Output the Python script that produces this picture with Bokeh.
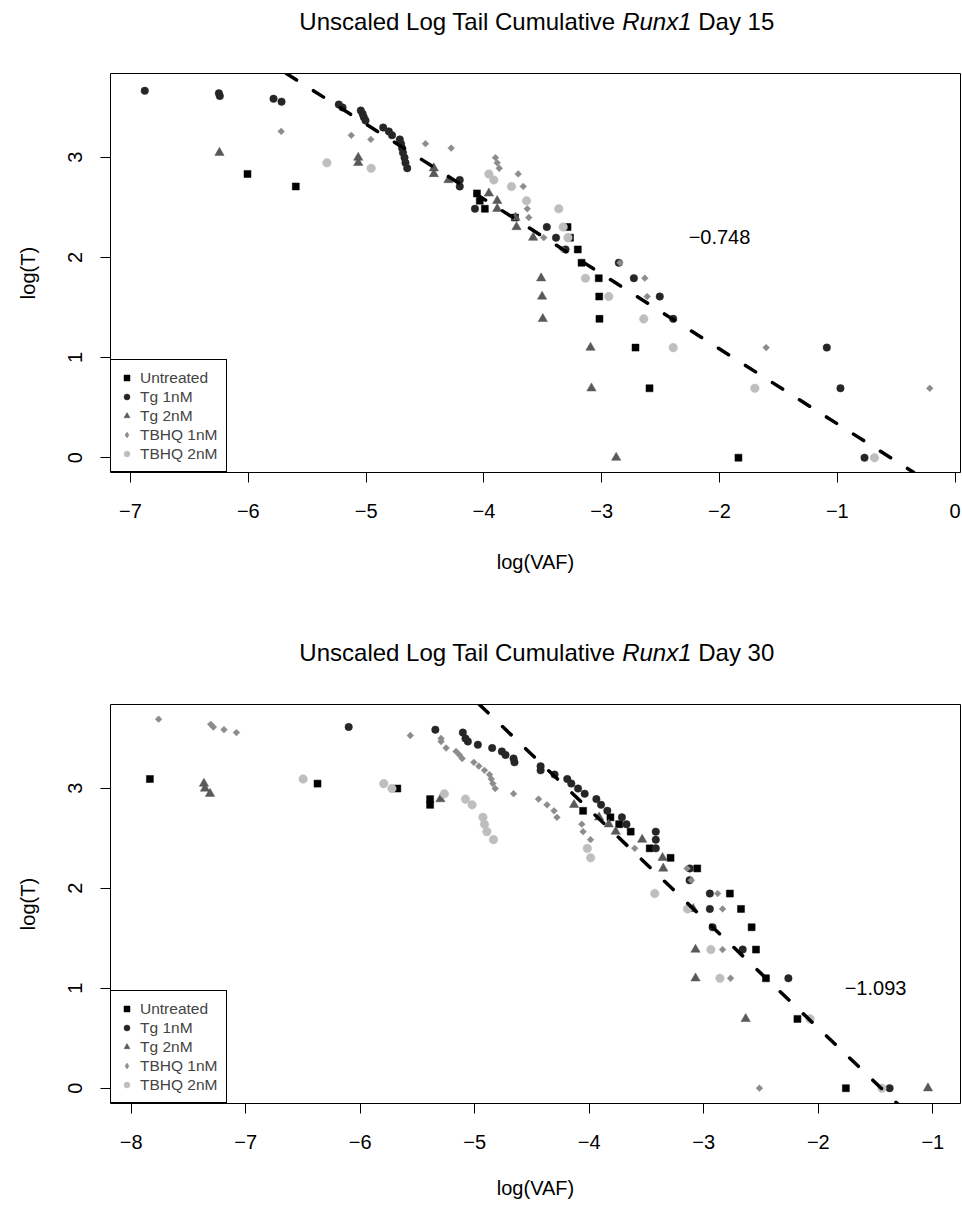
import math
from bokeh.plotting import figure
from bokeh.models import (Range1d, FixedTicker, CustomJSTickFormatter, Legend,
                          LegendItem, Label, ColumnDataSource)
from bokeh.layouts import column
from bokeh.embed import file_html
from bokeh.resources import INLINE

FONT = "Liberation Sans"

# ---------------- data ----------------
series_names = ["Untreated", "Tg 1nM", "Tg 2nM", "TBHQ 1nM", "TBHQ 2nM"]

# Day 15
d15_untreated_x = [-1.839, -2.594, -2.713, -3.019, -3.021, -3.025, -3.171, -3.203, -3.269, -3.290,
                   -3.736, -3.992, -4.035, -4.059, -5.597, -6.007]
d15_untreated_y = [0.000, 0.693, 1.099, 1.386, 1.609, 1.792, 1.946, 2.079, 2.197, 2.303,
                   2.398, 2.485, 2.565, 2.639, 2.708, 2.833]

d15_tg1_x = [-0.769, -0.973, -1.089, -2.393, -2.507, -2.727, -2.855, -3.307, -3.388, -3.466,
             -4.076, -4.205, -4.205, -4.651, -4.666, -4.674, -4.687, -4.695, -4.704, -4.714,
             -4.780, -4.807, -4.855, -5.005, -5.020, -5.030, -5.045, -5.200, -5.232, -5.718,
             -5.786, -6.242, -6.250, -6.879]
d15_tg1_y = [0.000, 0.693, 1.099, 1.386, 1.609, 1.792, 1.946, 2.079, 2.197, 2.303,
             2.485, 2.708, 2.773, 2.890, 2.944, 2.996, 3.045, 3.091, 3.135, 3.178,
             3.219, 3.258, 3.296, 3.367, 3.401, 3.434, 3.466, 3.497, 3.526, 3.555,
             3.584, 3.611, 3.638, 3.664]

d15_tg2_x = [-2.877, -3.087, -3.095, -3.500, -3.506, -3.514, -3.582, -3.723, -3.732, -3.887,
             -3.887, -3.958, -4.301, -4.425, -4.425, -5.067, -5.067, -6.245]
d15_tg2_y = [0.000, 0.693, 1.099, 1.386, 1.609, 1.792, 2.197, 2.303, 2.398, 2.485,
             2.565, 2.639, 2.773, 2.833, 2.890, 2.944, 2.996, 3.045]

d15_tbhq1_x = [-0.215, -1.604, -2.614, -2.634, -2.845, -3.333, -3.492, -3.619, -3.632, -3.666,
               -3.709, -3.870, -3.887, -3.902, -4.278, -4.496, -4.960, -5.126, -5.721]
d15_tbhq1_y = [0.693, 1.099, 1.609, 1.792, 1.946, 2.079, 2.197, 2.398, 2.485, 2.708,
               2.833, 2.890, 2.944, 2.996, 3.091, 3.135, 3.178, 3.219, 3.258]

d15_tbhq2_x = [-0.684, -1.700, -2.393, -2.643, -2.940, -3.138, -3.286, -3.327, -3.364, -3.638,
               -3.766, -3.916, -3.958, -4.957, -5.333]
d15_tbhq2_y = [0.000, 0.693, 1.099, 1.386, 1.609, 1.792, 2.197, 2.303, 2.485, 2.565,
               2.708, 2.773, 2.833, 2.890, 2.944]

# Day 30
d30_untreated_x = [-1.759, -2.182, -2.457, -2.544, -2.582, -2.675, -2.772, -3.057, -3.290, -3.472,
                   -3.638, -3.739, -3.815, -4.054, -5.390, -5.390, -5.676, -6.373, -7.837]
d30_untreated_y = [0.000, 0.693, 1.099, 1.386, 1.609, 1.792, 1.946, 2.197, 2.303, 2.398,
                   2.565, 2.639, 2.708, 2.773, 2.833, 2.890, 2.996, 3.045, 3.091]

d30_tg1_x = [-1.377, -2.261, -2.660, -2.923, -2.947, -2.947, -3.124, -3.122, -3.419, -3.419,
             -3.419, -3.675, -3.715, -3.842, -3.897, -3.938, -4.040, -4.098, -4.157, -4.192,
             -4.303, -4.425, -4.425, -4.653, -4.661, -4.731, -4.763, -4.848, -4.973, -5.060,
             -5.081, -5.104, -5.344, -6.101]
d30_tg1_y = [0.000, 1.099, 1.386, 1.609, 1.792, 1.946, 2.079, 2.197, 2.398, 2.485,
             2.565, 2.639, 2.708, 2.773, 2.833, 2.890, 2.944, 2.996, 3.045, 3.091,
             3.135, 3.178, 3.219, 3.258, 3.296, 3.332, 3.367, 3.401, 3.434, 3.466,
             3.497, 3.555, 3.584, 3.611]

d30_tg2_x = [-1.042, -2.634, -3.072, -3.072, -3.092, -3.354, -3.360, -3.538, -3.769, -3.830,
             -3.914, -4.133, -5.300, -7.312, -7.356, -7.365]
d30_tg2_y = [0.000, 0.693, 1.099, 1.386, 1.792, 2.197, 2.303, 2.485, 2.565, 2.639,
             2.708, 2.833, 2.890, 2.944, 2.996, 3.045]

d30_tbhq1_x = [-2.514, -2.766, -2.836, -2.836, -2.879, -3.109, -3.146, -3.603, -3.989, -4.054,
               -4.065, -4.282, -4.308, -4.369, -4.443, -4.661, -4.821, -4.842, -4.856, -4.871,
               -4.915, -4.964, -5.008, -5.110, -5.134, -5.163, -5.250, -5.294, -5.294, -5.563,
               -7.081, -7.190, -7.283, -7.306, -7.761]
d30_tbhq1_y = [0.000, 1.099, 1.386, 1.792, 1.946, 2.079, 2.197, 2.398, 2.485, 2.565,
               2.639, 2.708, 2.773, 2.833, 2.890, 2.944, 2.996, 3.045, 3.091, 3.135,
               3.178, 3.219, 3.258, 3.296, 3.332, 3.367, 3.401, 3.466, 3.497, 3.526,
               3.555, 3.584, 3.611, 3.638, 3.689]

d30_tbhq2_x = [-1.444, -2.072, -2.859, -2.938, -3.142, -3.428, -3.988, -4.017, -4.836, -4.894,
               -4.915, -4.929, -5.023, -5.081, -5.265, -5.723, -5.795, -6.499]
d30_tbhq2_y = [0.000, 0.693, 1.099, 1.386, 1.792, 1.946, 2.303, 2.398, 2.485, 2.565,
               2.639, 2.708, 2.833, 2.890, 2.944, 2.996, 3.045, 3.091]

# fitted slopes (label text) and intercepts of the dashed lines
d15_slope, d15_intercept = -0.748, -0.41
d30_slope, d30_intercept = -1.093, -1.585
d15_slope_label_pos = (-2.0, 2.2)
d30_slope_label_pos = (-1.5, 1.0)

d15_xticks = [-7, -6, -5, -4, -3, -2, -1, 0]
d30_xticks = [-8, -7, -6, -5, -4, -3, -2, -1]
yticks = [0, 1, 2, 3]

# ---------------- styles ----------------
series_colors = ["#000000", "#262626", "#595959", "#8c8c8c", "#bebebe"]
series_markers = ["square", "circle", "triangle", "square", "circle"]
legend_markers = ["square", "circle", "triangle", "diamond", "circle"]
series_sizes = [7, 7.5, 9.3, 4.8, 8.6]
series_angles = [0, 0, 0, math.pi / 4, 0]

W = 962
FRAME_L, FRAME_R = 110, 960
TITLE_FS = 24
MINUS_FMT = "return tick < 0 ? '\\u2212' + Math.abs(tick) : String(tick);"


def make_title(day, height, middle_from_top):
    # frame spans the same horizontal pixels as the plots; data units == pixels
    t = figure(width=W, height=height,
               x_range=Range1d(FRAME_L, FRAME_R), y_range=Range1d(0, height),
               output_backend="svg", toolbar_location=None,
               x_axis_type=None, y_axis_type=None,
               min_border_left=FRAME_L, min_border_right=W - FRAME_R,
               min_border_top=0, min_border_bottom=0)
    t.grid.visible = False
    t.outline_line_color = None
    t.background_fill_color = "white"
    t.border_fill_color = "white"
    xc = (FRAME_L + FRAME_R) / 2
    ym = height - middle_from_top
    fs = TITLE_FS
    common = dict(y=ym, text_baseline="middle", text_font=FONT,
                  text_font_size="%dpx" % fs, text_color="black")
    # widths in em (Helvetica metrics): "Unscaled Log Tail Cumulative"=13.282, space=0.278,
    # "Runx1"=2.890, "Day NN"=3.168 -> total 19.896, centred on xc
    t.add_layout(Label(x=xc + 3.334 * fs, text="Unscaled Log Tail Cumulative", text_align="right", **common))
    t.add_layout(Label(x=xc + 3.612 * fs, text="Runx1", text_align="left",
                       text_font_style="italic", **common))
    t.add_layout(Label(x=xc + 6.780 * fs, text="Day %d" % day, text_align="left", **common))
    return t


def make_plot(data, x_range, y_range, xticks, slope, intercept, slope_pos,
              height, border_top, border_bottom, xlabel_standoff):
    p = figure(width=W, height=height,
               x_range=Range1d(*x_range), y_range=Range1d(*y_range),
               output_backend="svg", toolbar_location=None,
               min_border_left=FRAME_L, min_border_right=W - FRAME_R,
               min_border_top=border_top, min_border_bottom=border_bottom)
    p.grid.visible = False
    p.outline_line_color = "black"
    p.outline_line_width = 1
    p.outline_line_alpha = 1
    p.background_fill_color = "white"
    p.border_fill_color = "white"

    for ax in (p.xaxis[0], p.yaxis[0]):
        ax.axis_line_color = None
        ax.major_tick_line_color = "black"
        ax.major_tick_line_width = 1
        ax.major_tick_in = 0
        ax.major_tick_out = 10
        ax.minor_tick_line_color = None
        ax.major_label_text_font = FONT
        ax.major_label_text_font_size = "20px"
        ax.major_label_text_color = "black"
        ax.axis_label_text_font = FONT
        ax.axis_label_text_font_size = "20px"
        ax.axis_label_text_font_style = "normal"
        ax.axis_label_text_color = "black"
        ax.formatter = CustomJSTickFormatter(code=MINUS_FMT)
    p.xaxis[0].ticker = FixedTicker(ticks=xticks)
    p.yaxis[0].ticker = FixedTicker(ticks=yticks)
    p.xaxis[0].axis_label = "log(VAF)"
    p.yaxis[0].axis_label = "log(T)"
    p.xaxis[0].major_label_standoff = 21
    p.xaxis[0].axis_label_standoff = xlabel_standoff
    p.yaxis[0].major_label_orientation = "vertical"
    p.yaxis[0].major_label_standoff = 18
    p.yaxis[0].axis_label_standoff = 27

    for (xs, ys), col, mk, sz, ang in zip(data, series_colors, series_markers,
                                          series_sizes, series_angles):
        src = ColumnDataSource(dict(x=xs, y=ys))
        p.scatter("x", "y", source=src, marker=mk, size=sz, angle=ang,
                  fill_color=col, line_color=col, line_width=0.5)

    # legend-only glyphs (a single missing value each, so nothing is drawn in the plot)
    leg_renderers = []
    for col, mk in zip(series_colors, legend_markers):
        r = p.scatter(x=[float("nan")], y=[float("nan")], marker=mk, size=6,
                      fill_color=col, line_color=col, line_width=0.5)
        leg_renderers.append(r)

    # fitted dashed line, clipped to the plotting region (starts at the top edge)
    lx = [(y_range[1] - intercept) / slope, (y_range[0] - intercept) / slope]
    ly = [intercept + slope * v for v in lx]
    p.line(lx, ly, line_color="black", line_width=3.5, line_dash="12 20", line_cap="round")

    p.add_layout(Label(x=slope_pos[0], y=slope_pos[1], text="\u2212%.3f" % abs(slope),
                       text_align="center", text_baseline="middle",
                       text_font=FONT, text_font_size="20px", text_color="black"))

    legend = Legend(items=[LegendItem(label=n, renderers=[r], index=0)
                           for n, r in zip(series_names, leg_renderers)],
                    location="bottom_left", margin=0, padding=8, spacing=0,
                    glyph_width=15, glyph_height=19, label_height=19, label_standoff=6,
                    label_text_font=FONT, label_text_font_size="15.5px",
                    border_line_color="black", border_line_width=1, border_line_alpha=1,
                    background_fill_color="white", background_fill_alpha=1)
    p.add_layout(legend)
    return p


# vertical layout (pixels): title 0-50, plot 50-608 (frame 73-472),
# title 608-682, plot 682-1205 (frame 704-1103)
t1 = make_title(15, height=50, middle_from_top=21)
p1 = make_plot([(d15_untreated_x, d15_untreated_y), (d15_tg1_x, d15_tg1_y), (d15_tg2_x, d15_tg2_y),
                (d15_tbhq1_x, d15_tbhq1_y), (d15_tbhq2_x, d15_tbhq2_y)],
               (-7.170, 0.046), (-0.148, 3.836), d15_xticks, d15_slope, d15_intercept,
               d15_slope_label_pos, height=558, border_top=23, border_bottom=136, xlabel_standoff=30)
t2 = make_title(30, height=74, middle_from_top=44)
p2 = make_plot([(d30_untreated_x, d30_untreated_y), (d30_tg1_x, d30_tg1_y), (d30_tg2_x, d30_tg2_y),
                (d30_tbhq1_x, d30_tbhq1_y), (d30_tbhq2_x, d30_tbhq2_y)],
               (-8.181, -0.758), (-0.153, 3.836), d30_xticks, d30_slope, d30_intercept,
               d30_slope_label_pos, height=523, border_top=22, border_bottom=102, xlabel_standoff=25)

layout = column(t1, p1, t2, p2, spacing=0)
open("out.html", "w").write(file_html(layout, INLINE))
